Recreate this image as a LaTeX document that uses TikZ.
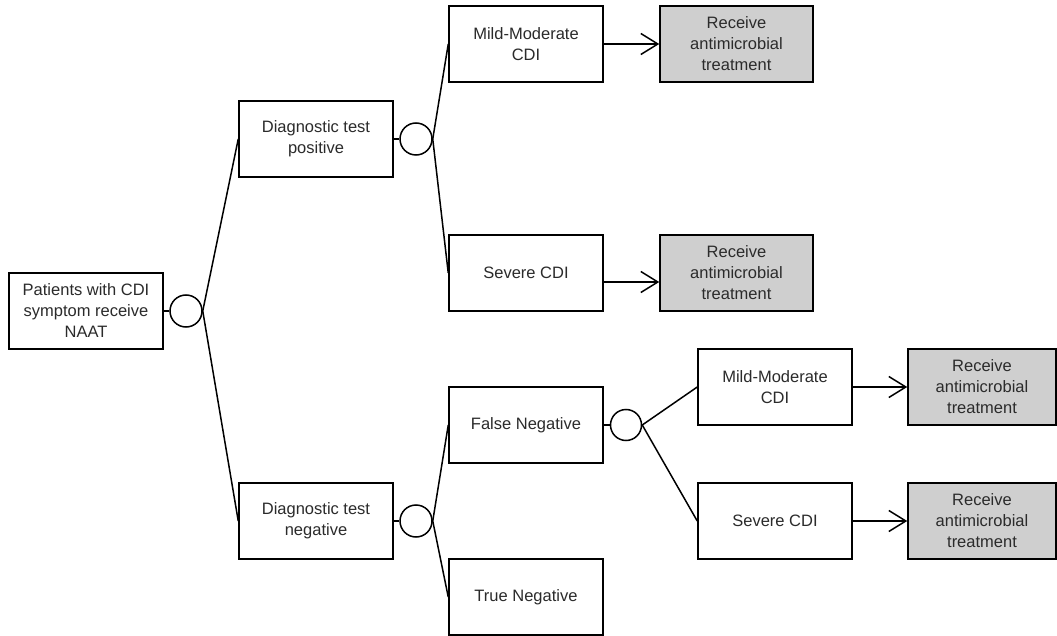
\documentclass[tikz,border=0pt]{standalone}
\usepackage{fontspec}
\setmainfont{Liberation Sans}
\usetikzlibrary{arrows.meta}
\definecolor{txt}{HTML}{2B2B2B}
\definecolor{greyfill}{HTML}{CFCFCF}
\begin{document}
\begin{tikzpicture}[x=1pt,y=-1pt,
  line width=1.5pt,
  box/.style={draw=black, fill=white, minimum width=154pt, minimum height=76pt, inner sep=0pt,
    align=center, text=txt, font=\fontsize{16.5}{21}\selectfont},
  rxbox/.style={box, fill=greyfill},
  chance/.style={draw=black, circle, minimum size=32pt, inner sep=0pt},
  arr/.style={-{Straight Barb[length=17pt,width=21pt,line width=1.5pt]}}]
\useasboundingbox (0,0) rectangle (1057,636);

\node[box] (root) at (86,311) {Patients with CDI\\symptom receive\\NAAT};
\node[chance] (c0) at (186,311) {};

\node[box] (dpos) at (316,139) {Diagnostic test\\positive};
\node[chance] (c1) at (416,139) {};
\node[box] (dneg) at (316,521) {Diagnostic test\\negative};
\node[chance] (c2) at (416,521) {};

\node[box] (mm1) at (526,44) {Mild-Moderate\\CDI};
\node[rxbox, minimum width=153pt] (rx1) at (736.5,44) {Receive\\antimicrobial\\treatment};
\node[box] (sev1) at (526,273) {Severe CDI};
\node[rxbox, minimum width=153pt] (rx2) at (736.5,273) {Receive\\antimicrobial\\treatment};

\node[box] (fn) at (526,425) {False Negative};
\node[chance, minimum size=31pt] (c3) at (626,425) {};
\node[box] (tn) at (526,597) {True Negative};

\node[box] (mm2) at (775,387) {Mild-Moderate\\CDI};
\node[rxbox, minimum width=148pt] (rx3) at (982,387) {Receive\\antimicrobial\\treatment};
\node[box] (sev2) at (775,521) {Severe CDI};
\node[rxbox, minimum width=148pt] (rx4) at (982,521) {Receive\\antimicrobial\\treatment};

\draw (root) -- (c0);
\draw (c0.east) -- (dpos.west);
\draw (c0.east) -- (dneg.west);

\draw (dpos) -- (c1);
\draw (c1.east) -- (mm1.west);
\draw (c1.east) -- (sev1.west);

\draw (dneg) -- (c2);
\draw (c2.east) -- (fn.west);
\draw (c2.east) -- (tn.west);

\draw (fn) -- (c3);
\draw (c3.east) -- (mm2.west);
\draw (c3.east) -- (sev2.west);

\draw[arr] (mm1) -- (rx1);
\draw[arr] ([yshift=-9pt]sev1.east) -- ([yshift=-9pt]rx2.west);
\draw[arr] (mm2) -- (rx3);
\draw[arr] (sev2) -- (rx4);
\end{tikzpicture}
\end{document}
